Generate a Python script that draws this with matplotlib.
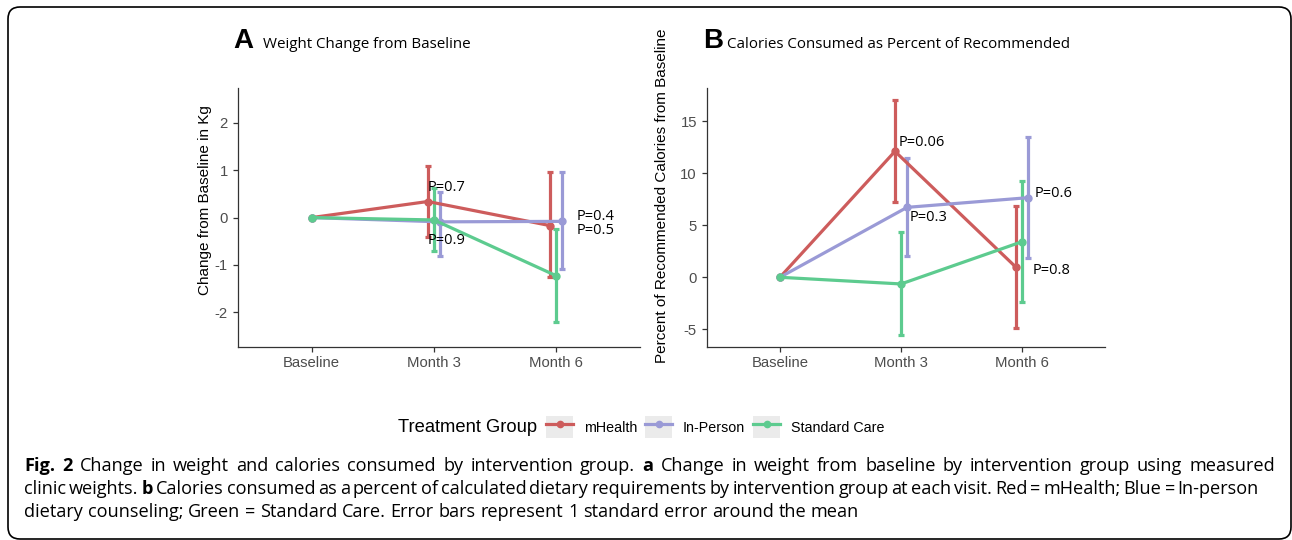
import matplotlib
matplotlib.use("Agg")
import matplotlib.pyplot as plt
from matplotlib.lines import Line2D
from matplotlib.patches import Rectangle, FancyBboxPatch
from matplotlib.legend_handler import HandlerLine2D
from matplotlib.transforms import IdentityTransform
import numpy as np

plt.rcParams["font.family"] = ["Liberation Sans", "DejaVu Sans"]

visits = ["Baseline", "Month 3", "Month 6"]
groups = ["mHealth", "In-Person", "Standard Care"]
colors = ["#CD5C5C", "#9A9AD6", "#5DCB8F"]
dodge = [-0.05, 0.05, 0.0]

# panel A: weight change (kg), mean and error-bar ends
wt_mean = {"mHealth": [0, 0.34, -0.17], "In-Person": [0, -0.09, -0.08], "Standard Care": [0, -0.05, -1.23]}
wt_hi = {"mHealth": [0, 1.10, 0.97], "In-Person": [0, 0.54, 0.97], "Standard Care": [0, 0.63, -0.25]}
wt_lo = {"mHealth": [0, -0.40, -1.26], "In-Person": [0, -0.82, -1.09], "Standard Care": [0, -0.70, -2.21]}

# panel B: calories as percent of recommended
cal_mean = {"mHealth": [0, 12.1, 0.96], "In-Person": [0, 6.72, 7.65], "Standard Care": [0, -0.64, 3.42]}
cal_hi = {"mHealth": [0, 17.0, 6.88], "In-Person": [0, 11.5, 13.45], "Standard Care": [0, 4.32, 9.25]}
cal_lo = {"mHealth": [0, 7.26, -4.9], "In-Person": [0, 2.08, 1.83], "Standard Care": [0, -5.54, -2.34]}

# p-value labels: (text, x, y) in data units
wt_p = [("P=0.7", 1.95, 0.63), ("P=0.9", 1.95, -0.48), ("P=0.4", 3.17, 0.03), ("P=0.5", 3.17, -0.27)]
cal_p = [("P=0.06", 1.98, 12.95), ("P=0.3", 2.07, 5.79), ("P=0.6", 3.1, 8.04), ("P=0.8", 3.09, 0.7)]

W, H = 1292, 540
fig = plt.figure(figsize=(W / 100, H / 100), dpi=100)


def px_axes(x0, y0, x1, y1):
    return fig.add_axes([x0 / W, (H - y1) / H, (x1 - x0) / W, (y1 - y0) / H])


def draw_panel(ax, mean, hi, lo, plabels, ylim, yticks, ylabel, lab_xy):
    x = np.arange(1, len(visits) + 1)
    shift = np.array([0, 1, 1])  # baseline points are not dodged
    for g, c, d in zip(groups, colors, dodge):
        m = np.array(mean[g])
        yerr = [m - np.array(lo[g]), np.array(hi[g]) - m]
        ax.errorbar(x + d * shift, m, yerr=yerr, color=c, lw=2.3, marker="o", ms=5,
                    elinewidth=2.3, capsize=2, capthick=2.3, zorder=3)
    for t, tx, ty in plabels:
        ax.text(tx, ty, t, fontsize=10.5, family=["Open Sans", "DejaVu Sans"], va="center", ha="left", zorder=5)
    ax.set_xlim(0.395, 3.685)
    ax.set_ylim(*ylim)
    ax.set_xticks(x)
    ax.set_xticklabels(visits)
    ax.set_yticks(yticks)
    ax.set_yticklabels([str(v) for v in yticks])
    for s in ["top", "right"]:
        ax.spines[s].set_visible(False)
    for s in ["left", "bottom"]:
        ax.spines[s].set_color("#333333")
        ax.spines[s].set_linewidth(0.9)
    ax.tick_params(colors="#333333", labelcolor="#4D4D4D", labelsize=10.7, length=3.5, width=0.9)
    ax.set_ylabel(ylabel, fontsize=11)
    ax.yaxis.set_label_coords(*lab_xy)


axA = px_axes(237.7, 88, 640, 346.7)
draw_panel(axA, wt_mean, wt_hi, wt_lo, wt_p, (-2.73, 2.74), [-2, -1, 0, 1, 2],
           "Change from Baseline in Kg", (-0.064, 0.567))
axB = px_axes(706.7, 88.3, 1105, 346.7)
draw_panel(axB, cal_mean, cal_hi, cal_lo, cal_p, (-6.67, 18.16), [-5, 0, 5, 10, 15],
           "Percent of Recommended Calories from Baseline", (-0.095, 0.584))

# panel titles
title_font = ["Open Sans", "DejaVu Sans"]
fig.text(233 / W, 1 - 48 / H, "A", fontsize=20, weight="bold", va="baseline")
fig.text(262.7 / W, 1 - 48 / H, "Weight Change from Baseline", fontsize=10.9,
         family=title_font, va="baseline")
fig.text(703 / W, 1 - 48 / H, "B", fontsize=20, weight="bold", va="baseline")
fig.text(726.7 / W, 1 - 48 / H, "Calories Consumed as Percent of Recommended", fontsize=10.9,
         family=title_font, va="baseline")


class KeyHandler(HandlerLine2D):
    # ggplot-style legend key: grey square behind the line+point
    def create_artists(self, legend, orig, xdescent, ydescent, width, height, fontsize, trans):
        arts = super().create_artists(legend, orig, xdescent, ydescent, width, height, fontsize, trans)
        bg = Rectangle((-xdescent, -ydescent), width, height, facecolor="#EBEBEB",
                       edgecolor="none", transform=trans)
        return [bg] + list(arts)


# legend
fig.text(398 / W, 1 - 427 / H, "Treatment Group", fontsize=13.2, va="center")
handles = [Line2D([], [], color=c, lw=2.3, marker="o", ms=4.5) for c in colors]
fig.legend(handles, groups, loc="center left", bbox_to_anchor=(546 / W, 1 - 427 / H), ncol=3,
           frameon=False, fontsize=10.3, handler_map={Line2D: KeyHandler(numpoints=1)},
           handlelength=1.9, handleheight=1.9, handletextpad=0.75, columnspacing=0.55,
           borderpad=0, borderaxespad=0)

# caption, placed word by word so lines can be justified
cap_font = ["Open Sans", "DejaVu Sans"]
cap_lines = [
    [("Fig. 2", "bold"), ("Change in weight and calories consumed by intervention group.", "normal"),
     ("a", "bold"), ("Change in weight from baseline by intervention group using measured", "normal")],
    [("clinic weights.", "normal"), ("b", "bold"),
     ("Calories consumed as a percent of calculated dietary requirements by intervention group at each visit. Red = mHealth; Blue = In-person", "normal")],
    [("dietary counseling; Green = Standard Care. Error bars represent 1 standard error around the mean", "normal")],
]
cap_y = [466, 489, 512]
cap_x0 = 24
cap_right = [1275, 1259, None]
renderer = fig.canvas.get_renderer()


def words_of(runs):
    out = []
    for txt, wgt in runs:
        out += [(w, wgt) for w in txt.split()]
    return out


def measure(s, wgt, size):
    t = fig.text(0, 0, s, fontsize=size, weight=wgt, family=cap_font)
    w = t.get_window_extent(renderer=renderer).width
    t.remove()
    return w


# font size chosen so the second (tightest) line fits with narrow spaces
base = 10
w2 = words_of(cap_lines[1])
words2 = sum(measure(w, g, base) for w, g in w2)
cap_size = base * (cap_right[1] - cap_x0 - (len(w2) - 1) * 3.0) / words2

space = measure("a a", "normal", cap_size) - 2 * measure("a", "normal", cap_size)
for runs, yy, xr in zip(cap_lines, cap_y, cap_right):
    words = words_of(runs)
    widths = [measure(w, g, cap_size) for w, g in words]
    gap = space if xr is None else (xr - cap_x0 - sum(widths)) / (len(words) - 1)
    xx = cap_x0
    for (w, g), wd in zip(words, widths):
        fig.text(xx / W, 1 - yy / H, w, fontsize=cap_size, weight=g, family=cap_font,
                 va="center", ha="left")
        xx += wd + gap

# outer rounded border
fig.add_artist(FancyBboxPatch((8, 1), 1283, 532, boxstyle="round,pad=0,rounding_size=12",
                              transform=IdentityTransform(), facecolor="none",
                              edgecolor="black", lw=1.2))

fig.savefig("out.png", dpi=100)
